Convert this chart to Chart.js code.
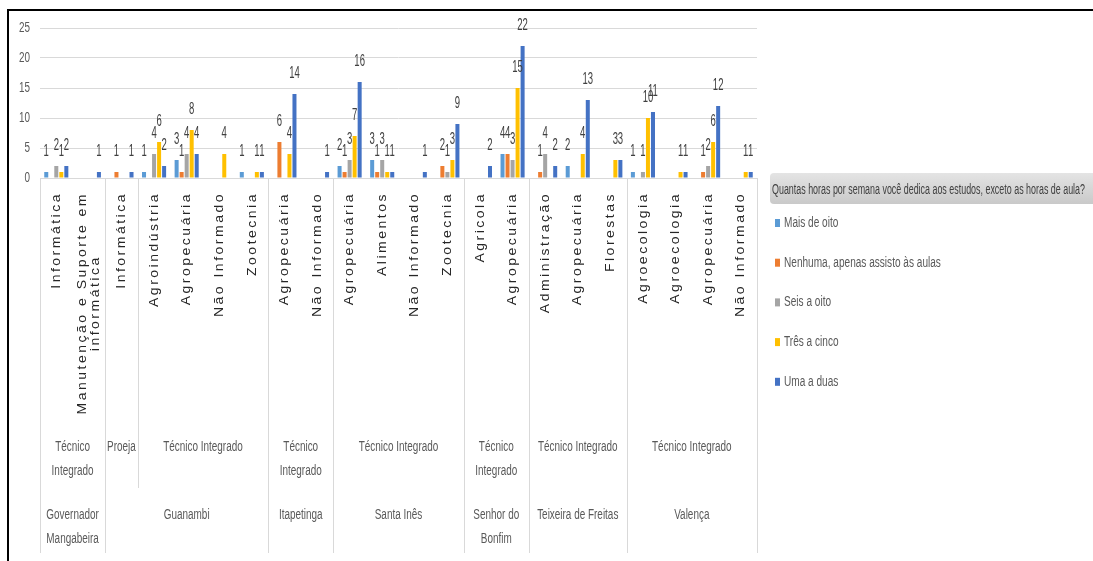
<!DOCTYPE html>
<html>
    <head>
        <meta charset="utf-8">
        <style>
            body { margin: 0; background: #fff; }
            #wrap { width: 1093px; height: 561px; }
        </style>
    </head>
    <body>

	<div id="wrap">
		<canvas id="myChart" width="1093" height="561"></canvas>
	</div>

        <script src="https://cdn.jsdelivr.net/npm/chart.js"></script>

        <script>
		// category levels (campus / modalidade / curso)
		const campus = [
			'Governador Mangabeira', 'Governador Mangabeira',
			'Guanambi', 'Guanambi', 'Guanambi', 'Guanambi', 'Guanambi',
			'Itapetinga', 'Itapetinga',
			'Santa Inês', 'Santa Inês', 'Santa Inês', 'Santa Inês',
			'Senhor do Bonfim', 'Senhor do Bonfim',
			'Teixeira de Freitas', 'Teixeira de Freitas', 'Teixeira de Freitas',
			'Valença', 'Valença', 'Valença', 'Valença'
		];
		const modalidade = [
			'Técnico Integrado', 'Técnico Integrado',
			'Proeja', 'Técnico Integrado', 'Técnico Integrado', 'Técnico Integrado', 'Técnico Integrado',
			'Técnico Integrado', 'Técnico Integrado',
			'Técnico Integrado', 'Técnico Integrado', 'Técnico Integrado', 'Técnico Integrado',
			'Técnico Integrado', 'Técnico Integrado',
			'Técnico Integrado', 'Técnico Integrado', 'Técnico Integrado',
			'Técnico Integrado', 'Técnico Integrado', 'Técnico Integrado', 'Técnico Integrado'
		];
		const curso = [
			'Informática', 'Manutenção e Suporte em informática',
			'Informática', 'Agroindústria', 'Agropecuária', 'Não Informado', 'Zootecnia',
			'Agropecuária', 'Não Informado',
			'Agropecuária', 'Alimentos', 'Não Informado', 'Zootecnia',
			'Agricola', 'Agropecuária',
			'Administração', 'Agropecuária', 'Florestas',
			'Agroecologia', 'Agroecologia', 'Agropecuária', 'Não Informado'
		];

		const legendTitle = 'Quantas horas por semana você dedica aos estudos, exceto as horas de aula?';

		// series (null = no answer, no bar)
		const maisDeOito =   [1, null, null, 1, 3, null, 1, null, null, 2, 3, null, null, null, 4, null, 2, null, 1, null, null, null];
		const nenhuma =      [null, null, 1, null, 1, null, null, 6, null, 1, 1, null, 2, null, 4, 1, null, null, null, null, 1, null];
		const seisAOito =    [2, null, null, 4, 4, null, null, null, null, 3, 3, null, 1, null, 3, 4, null, null, 1, null, 2, null];
		const tresACinco =   [1, null, null, 6, 8, 4, 1, 4, null, 7, 1, null, 3, null, 15, null, 4, 3, 10, 1, 6, 1];
		const umaADuas =     [2, 1, 1, 2, 4, null, 1, 14, 1, 16, 1, 1, 9, 2, 22, 2, 13, 3, 11, 1, 12, 1];

		const yTicks = [0, 5, 10, 15, 20, 25];

		const FONT = '"Liberation Sans", Arial, sans-serif';

		function squeezedText(ctx, text, x, y, size, sx, align, color) {
			ctx.save();
			ctx.font = size + 'px ' + FONT;
			ctx.fillStyle = color;
			ctx.textBaseline = 'middle';
			const w = ctx.measureText(text).width * sx;
			let x0 = x;
			if (align === 'center') x0 = x - w / 2;
			if (align === 'right') x0 = x - w;
			ctx.translate(x0, y);
			ctx.scale(sx, 1);
			ctx.textAlign = 'left';
			ctx.fillText(text, 0, 0);
			ctx.restore();
			return w;
		}

		function wrapWords(ctx, text, maxW, widthOf) {
			const words = text.split(' ');
			const lines = [];
			let cur = '';
			words.forEach(function (w) {
				const test = cur ? cur + ' ' + w : w;
				if (cur && widthOf(test) > maxW) {
					lines.push(cur);
					cur = w;
				} else {
					cur = test;
				}
			});
			if (cur) lines.push(cur);
			return lines;
		}

		function runs(keys) {
			const out = [];
			keys.forEach(function (k, i) {
				const last = out[out.length - 1];
				if (last && last.key === k) last.end = i;
				else out.push({ key: k, start: i, end: i });
			});
			return out;
		}

		const excelLook = {
			id: 'excelLook',
			afterDraw(chart) {
				const ctx = chart.ctx;
				const area = chart.chartArea;
				const xs = chart.scales.x;
				const ys = chart.scales.y;
				const n = curso.length;
				const step = (area.right - area.left) / n;
				const sepColor = '#d9d9d9';
				const bottom = 553;

				// frame
				ctx.save();
				ctx.fillStyle = '#000';
				ctx.fillRect(7, 9, 1086, 2);
				ctx.fillRect(7, 9, 2, 552);
				ctx.restore();

				// y tick labels
				yTicks.forEach(function (v) {
					squeezedText(ctx, String(v), 30, ys.getPixelForValue(v), 15, 0.66, 'right', '#595959');
				});

				// data labels
				chart.data.datasets.forEach(function (ds, i) {
					const meta = chart.getDatasetMeta(i);
					meta.data.forEach(function (bar, j) {
						if (ds.data[j] == null) return;
						squeezedText(ctx, String(ds.data[j]), bar.x, bar.y - 21, 17, 0.56, 'center', '#404040');
					});
				});

				// separators
				ctx.save();
				ctx.strokeStyle = sepColor;
				ctx.lineWidth = 1;
				const camRuns = runs(campus);
				const modRuns = runs(campus.map(function (c, i) { return c + '|' + modalidade[i]; }));
				const camStarts = camRuns.map(function (r) { return r.start; });
				ctx.beginPath();
				camRuns.forEach(function (r) {
					const x = Math.round(area.left + r.start * step) + 0.5;
					ctx.moveTo(x, area.bottom); ctx.lineTo(x, bottom);
				});
				const xr = Math.round(area.right) + 0.5;
				ctx.moveTo(xr, area.bottom); ctx.lineTo(xr, bottom);
				modRuns.forEach(function (r) {
					if (camStarts.indexOf(r.start) >= 0) return;
					const x = Math.round(area.left + r.start * step) + 0.5;
					ctx.moveTo(x, area.bottom); ctx.lineTo(x, 488);
				});
				ctx.stroke();
				ctx.restore();

				// leaf labels (rotated)
				ctx.save();
				const lsz = 14, lsp = 2.5, lsy = 0.95;
				ctx.font = lsz + 'px ' + FONT;
				const leafW = function (t) { return ctx.measureText(t).width + t.length * lsp; };
				curso.forEach(function (t, j) {
					const cx = xs.getPixelForValue(j);
					const lines = wrapWords(ctx, t, 236, leafW);
					const maxW = Math.max.apply(null, lines.map(leafW));
					lines.forEach(function (ln, k) {
						const w = leafW(ln);
						ctx.save();
						ctx.translate(cx + (k - (lines.length - 1) / 2) * 13, 192);
						ctx.rotate(-Math.PI / 2);
						ctx.scale(1, lsy);
						ctx.font = lsz + 'px ' + FONT;
						ctx.letterSpacing = lsp + 'px';
						ctx.fillStyle = '#262626';
						ctx.textBaseline = 'middle';
						ctx.textAlign = 'left';
						ctx.fillText(ln, -maxW / 2 - w / 2, 0);
						ctx.restore();
					});
				});
				ctx.restore();

				// group labels
				const gsz = 14, gsx = 0.71;
				ctx.save();
				ctx.font = gsz + 'px ' + FONT;
				const gW = function (t) { return ctx.measureText(t).width * gsx; };
				modRuns.forEach(function (r) {
					const label = modalidade[r.start];
					const cx = area.left + (r.start + r.end + 1) / 2 * step;
					const maxW = (r.end - r.start + 1) * step - 10;
					wrapWords(ctx, label, maxW, gW).forEach(function (ln, k) {
						squeezedText(ctx, ln, cx, 447 + k * 24, gsz, gsx, 'center', '#595959');
					});
				});
				camRuns.forEach(function (r) {
					const cx = area.left + (r.start + r.end + 1) / 2 * step;
					const maxW = (r.end - r.start + 1) * step - 10;
					wrapWords(ctx, r.key, maxW, gW).forEach(function (ln, k) {
						squeezedText(ctx, ln, cx, 515 + k * 24, gsz, gsx, 'center', '#595959');
					});
				});
				ctx.restore();

				// legend
				ctx.save();
				const grad = ctx.createLinearGradient(0, 173, 0, 204);
				grad.addColorStop(0, '#e4e4e4');
				grad.addColorStop(1, '#c9c9c9');
				ctx.fillStyle = grad;
				ctx.beginPath();
				ctx.roundRect(770, 173, 330, 31, 4);
				ctx.fill();
				ctx.font = '14px ' + FONT;
				const tsx = 313 / ctx.measureText(legendTitle).width;
				ctx.restore();
				squeezedText(ctx, legendTitle, 772, 190, 14, tsx, 'left', '#404040');

				chart.data.datasets.forEach(function (ds, i) {
					const y = 223 + i * 39.7;
					ctx.save();
					ctx.fillStyle = ds.backgroundColor;
					ctx.fillRect(775, y - 4, 5, 8);
					ctx.restore();
					squeezedText(ctx, ds.label, 784, y, 14, 0.72, 'left', '#595959');
				});
			}
		};

		function init() {
			const ctx = document.getElementById('myChart');

			const series = [
				{ label: 'Mais de oito', data: maisDeOito, color: '#5B9BD5' },
				{ label: 'Nenhuma, apenas assisto às aulas', data: nenhuma, color: '#ED7D31' },
				{ label: 'Seis a oito', data: seisAOito, color: '#A5A5A5' },
				{ label: 'Três a cinco', data: tresACinco, color: '#FFC000' },
				{ label: 'Uma a duas', data: umaADuas, color: '#4472C4' }
			];

			new Chart(ctx, {
				type: 'bar',
				data: {
					labels: curso,
					datasets: series.map(function (s) {
						return {
							label: s.label,
							data: s.data,
							backgroundColor: s.color,
							borderWidth: 0,
							categoryPercentage: 0.77,
							barPercentage: 0.8
						};
					})
				},
				options: {
					responsive: false,
					animation: false,
					layout: { padding: { top: 28, right: 336, left: 0, bottom: 0 } },
					plugins: {
						legend: { display: false },
						tooltip: { enabled: false }
					},
					scales: {
						x: {
							grid: { display: false },
							border: { display: true, color: '#d9d9d9' },
							ticks: { display: false },
							afterFit: function (s) { s.height = 383; }
						},
						y: {
							min: 0,
							max: 25,
							ticks: { display: false, stepSize: 5 },
							grid: { color: '#d9d9d9', drawTicks: false },
							border: { display: false },
							afterFit: function (s) { s.width = 40; }
						}
					}
				},
				plugins: [excelLook]
			});
		}

		document.addEventListener("DOMContentLoaded", function () {
			init();
		});
        </script>
    </body>
</html>
